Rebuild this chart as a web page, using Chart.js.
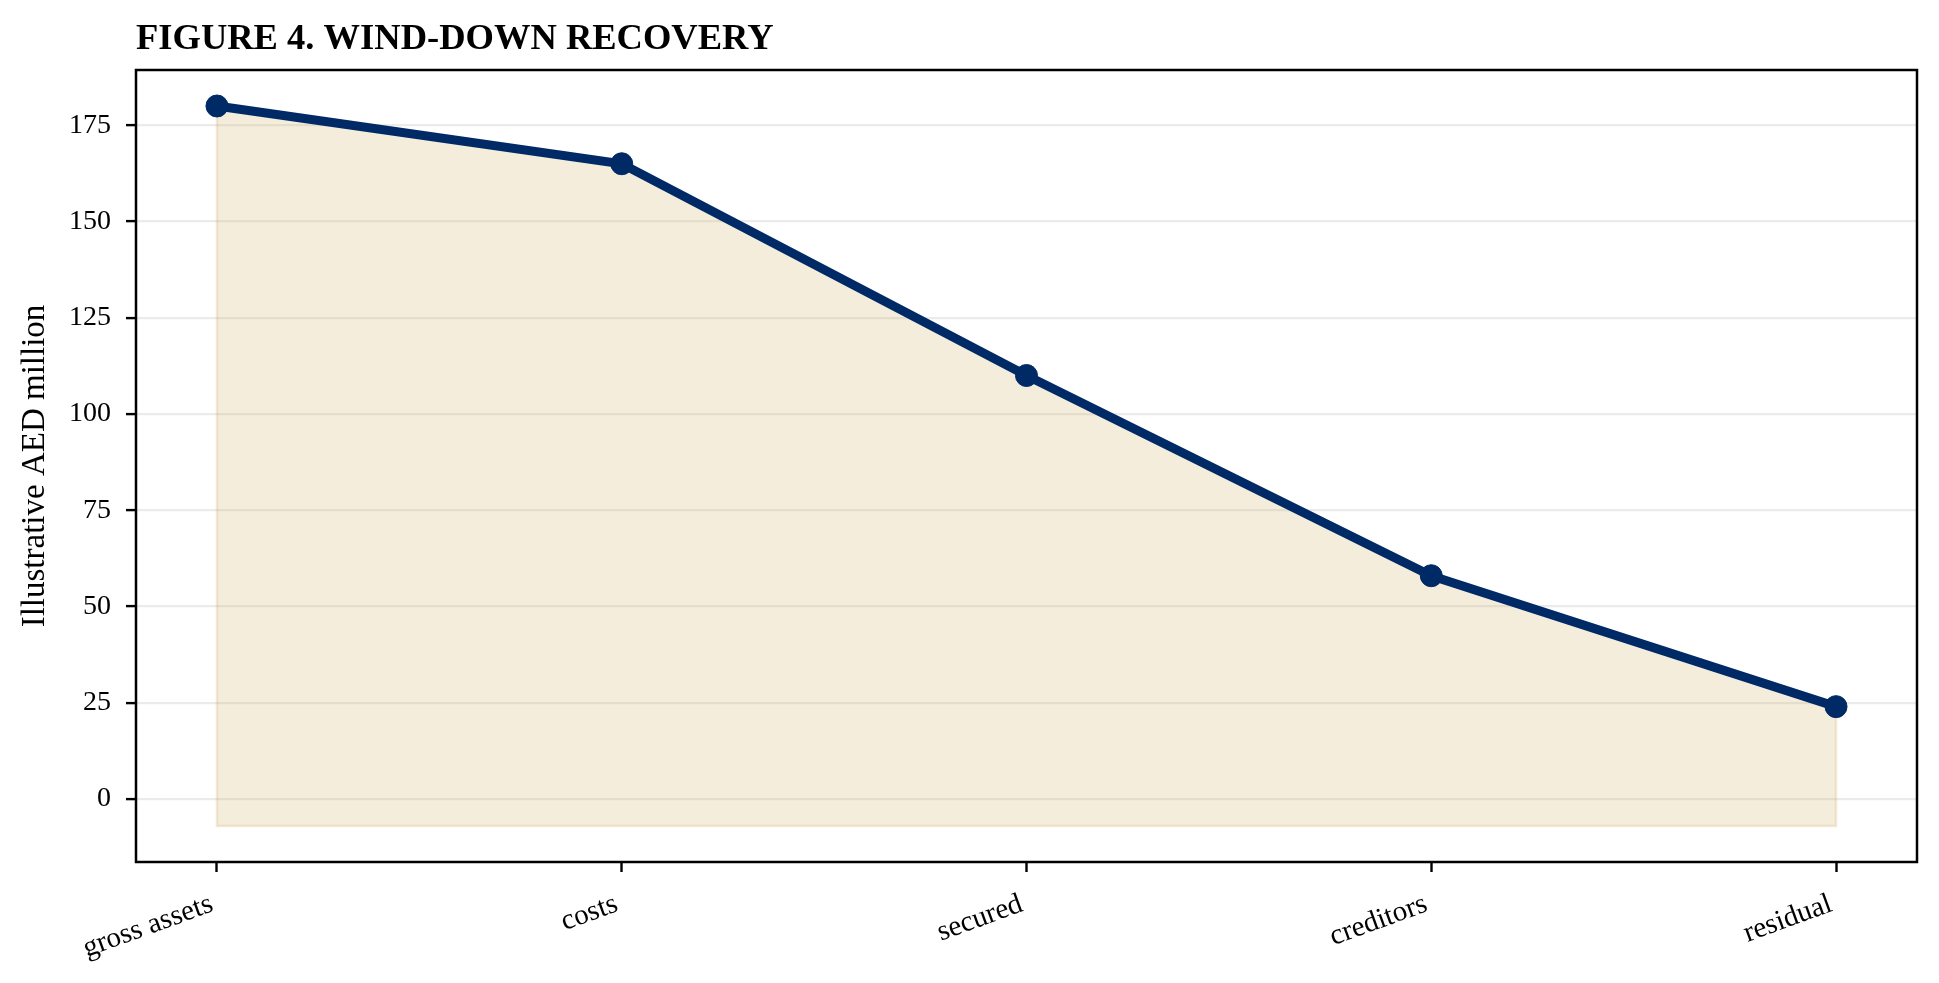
<!DOCTYPE html>
<html>
<head>
<meta charset="utf-8">
<style>
  html, body { margin: 0; padding: 0; background: #fff; }
  #wrap { width: 1939px; height: 983px; }
</style>
<script src="https://cdn.jsdelivr.net/npm/chart.js@4.4.1/dist/chart.umd.min.js"></script>
</head>
<body>
<div id="wrap"><canvas id="myChart" width="1939" height="983"></canvas></div>
<script>
// chart values
var categories = ["gross assets", "costs", "secured", "creditors", "residual"];
var recovery = [180, 165, 110, 58, 24];
var fillBase = -7;
var yTicks = [0, 25, 50, 75, 100, 125, 150, 175];
var titleText = "FIGURE 4. WIND-DOWN RECOVERY";
var yLabel = "Illustrative AED million";

var serif = "'Liberation Serif', 'Times New Roman', serif";
var last = recovery.length - 1;

// title + box round the plot area
var frame = {
  id: "frame",
  afterDatasetsDraw: function (chart) {
    var a = chart.chartArea;
    var c = chart.ctx;
    c.save();
    c.strokeStyle = "#000";
    c.lineWidth = 2.5;
    c.strokeRect(a.left, a.top, a.right - a.left, a.bottom - a.top);
    c.font = "bold 36.5px " + serif;
    c.fillStyle = "#000";
    c.textBaseline = "alphabetic";
    c.textAlign = "left";
    c.fillText(titleText, a.left, 49);
    c.restore();
  }
};

var ctx = document.getElementById("myChart").getContext("2d");
// eslint-disable-next-line no-undef
var myChart = new Chart(ctx, {
  type: "line",
  data: {
    datasets: [
      {
        label: "Recovery",
        order: 1,
        data: recovery.map(function (v, i) { return { x: i, y: v }; }),
        borderColor: "#002a66",
        borderWidth: 9,
        pointRadius: 11,
        pointBackgroundColor: "#002a66",
        pointBorderColor: "#002a66",
        pointBorderWidth: 1,
        backgroundColor: "rgba(201, 166, 80, 0.2)",
        fill: { value: fillBase },
        tension: 0,
      },
      {
        // faint edge of the shaded area
        label: "edge",
        order: 2,
        data: [
          { x: 0, y: recovery[0] },
          { x: 0, y: fillBase },
          { x: last, y: fillBase },
          { x: last, y: recovery[last] },
        ],
        borderColor: "rgba(201, 166, 80, 0.22)",
        borderWidth: 2.5,
        pointRadius: 0,
        fill: false,
        tension: 0,
      },
    ],
  },
  options: {
    responsive: false,
    devicePixelRatio: 1,
    animation: false,
    layout: { padding: { top: 70, right: 22, left: 0, bottom: 0 } },
    plugins: {
      legend: { display: false },
      tooltip: { enabled: false },
    },
    scales: {
      x: {
        type: "linear",
        min: -0.2,
        max: 4.2,
        afterBuildTicks: function (s) {
          s.ticks = categories.map(function (c, i) { return { value: i }; });
        },
        afterFit: function (s) { s.height = 121; },
        border: { display: false },
        grid: {
          drawOnChartArea: false,
          tickLength: 10,
          tickColor: "#000",
          tickWidth: 2.4,
        },
        ticks: {
          autoSkip: false,
          minRotation: 20,
          maxRotation: 20,
          padding: 15,
          labelOffset: -5,
          color: "#000",
          font: { family: serif, size: 29 },
          callback: function (v) { return categories[v]; },
        },
      },
      y: {
        min: -16.35,
        max: 189.35,
        afterBuildTicks: function (s) {
          s.ticks = yTicks.map(function (v) { return { value: v }; });
        },
        afterFit: function (s) { s.width = 136; },
        border: { display: false },
        grid: {
          color: "#ebebeb",
          lineWidth: 2.2,
          tickLength: 10,
          tickColor: "#000",
          tickWidth: 2.4,
        },
        ticks: {
          padding: 15,
          color: "#000",
          font: { family: serif, size: 28 },
        },
        title: {
          display: true,
          text: yLabel,
          color: "#000",
          font: { family: serif, size: 33 },
          padding: { top: 16, bottom: 0 },
        },
      },
    },
  },
  plugins: [frame],
});
</script>
</body>
</html>
